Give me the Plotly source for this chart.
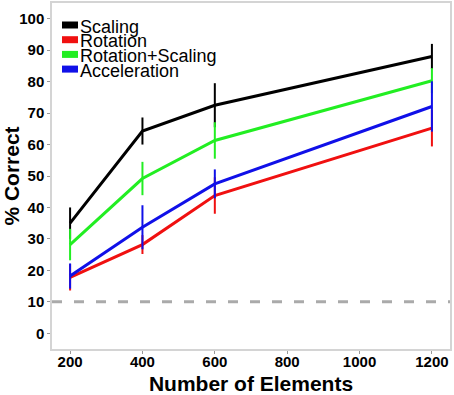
import plotly.graph_objects as go

# ---- data ----
elements = [200, 400, 600, 1200]
series_names = ["Scaling", "Rotation", "Rotation+Scaling", "Acceleration"]
scaling = [35.0, 64.3, 72.5, 88.0]
scaling_err = [5.0, 4.3, 7.0, 4.0]
rotation = [17.8, 28.2, 43.8, 65.2]
rotation_err = [4.2, 3.0, 5.8, 5.8]
rot_scaling = [28.2, 49.2, 61.3, 80.3]
rot_scaling_err = [5.0, 5.3, 5.8, 4.0]
acceleration = [18.2, 33.7, 47.5, 72.1]
acceleration_err = [4.0, 7.0, 4.6, 8.0]
chance_level = 10
x_ticks = [200, 400, 600, 800, 1000, 1200]
y_ticks = [0, 10, 20, 30, 40, 50, 60, 70, 80, 90, 100]

colors = {"Scaling": "#000000", "Rotation": "#f01010", "Rotation+Scaling": "#22ee22",
          "Acceleration": "#1010e8"}
values = {"Scaling": (scaling, scaling_err), "Rotation": (rotation, rotation_err),
          "Rotation+Scaling": (rot_scaling, rot_scaling_err),
          "Acceleration": (acceleration, acceleration_err)}
draw_order = ["Scaling", "Rotation+Scaling", "Rotation", "Acceleration"]

fig = go.Figure()
for name in draw_order:
    y, e = values[name]
    fig.add_trace(go.Scatter(
        x=elements, y=y, mode="lines", name=name, showlegend=False,
        line=dict(color=colors[name], width=3),
        error_y=dict(type="data", array=e, visible=True, width=0, thickness=2,
                     color=colors[name]),
    ))

fig.add_hline(y=chance_level, line=dict(color="#aaaaaa", width=3, dash="10px,12px"))

# compact legend drawn like the reference (keys + labels)
W, H = 454, 395
ml, mr, mt, mb = 52, 4, 3, 46
pw, ph = W - ml - mr, H - mt - mb
def px_x(p):
    return (p - ml) / pw
def px_y(p):
    return (H - mb - p) / ph
for i, name in enumerate(series_names):
    cy = 25 + i * 14.7
    fig.add_shape(type="rect", xref="paper", yref="paper",
                  x0=px_x(62), x1=px_x(78), y0=px_y(cy + 3.5), y1=px_y(cy - 3.5),
                  fillcolor=colors[name], line=dict(width=0), layer="above")
    fig.add_annotation(xref="paper", yref="paper", x=px_x(79), y=px_y(cy + 1.5),
                       xanchor="left", yanchor="middle", text=name, showarrow=False,
                       borderpad=0,
                       font=dict(family="Liberation Sans, Arial", size=18, color="#000000"))

axis_common = dict(
    showgrid=False, zeroline=False, showline=True, mirror=True, automargin=False,
    linecolor="#d4d4d4", linewidth=1.5, ticks="outside", ticklen=3,
    tickcolor="#999999", tickwidth=1,
    tickfont=dict(family="Liberation Sans, Arial", size=15, color="#000000", weight="bold"),
)
fig.update_layout(
    width=W, height=H,
    margin=dict(l=ml, r=mr, t=mt, b=mb, autoexpand=False),
    paper_bgcolor="white", plot_bgcolor="white", hovermode=False,
    xaxis=dict(range=[150, 1250], tickvals=x_ticks, ticklabelstandoff=-5, **axis_common,
               title=dict(text="Number of Elements", standoff=18,
                          font=dict(family="Liberation Sans, Arial", size=21,
                                    color="#000000", weight="bold"))),
    yaxis=dict(range=[-5, 105], tickvals=y_ticks, **axis_common,
               title=dict(text="% Correct", standoff=2,
                          font=dict(family="Liberation Sans, Arial", size=21,
                                    color="#000000", weight="bold"))),
)
fig.write_html("out.html", config={"displayModeBar": False},
               post_script="document.body.style.margin='0px';")
